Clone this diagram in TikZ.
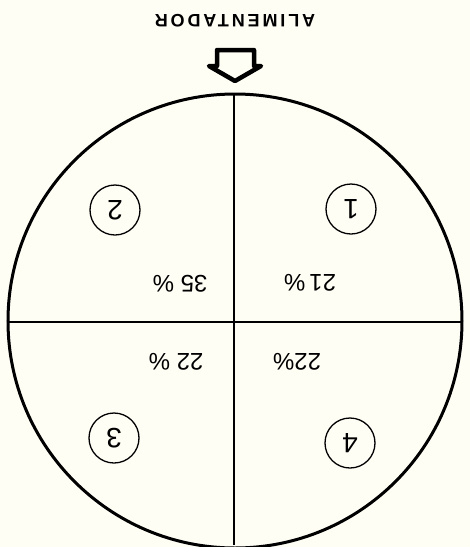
\documentclass[tikz,border=0pt]{standalone}
\usepackage{fontspec}
\setmainfont{Liberation Sans}
\newfontfamily\alimfont[LetterSpace=16]{Liberation Sans}
\begin{document}
\begin{tikzpicture}[x=1pt,y=-1pt,
  lbl/.style={rotate=180,font=\fontsize{24}{24}\selectfont,inner sep=0pt},
  num/.style={circle,draw,line width=1.3pt,minimum size=50pt,inner sep=0pt,rotate=180,font=\fontsize{28}{28}\selectfont}]
\useasboundingbox (0,0) rectangle (470,547);
\fill[white!96!yellow] (0,0) rectangle (470,547);
\coordinate (c) at (235,321);
\draw[line width=3pt] (c) circle (227);
\coordinate (top) at (234,95);
\coordinate (bot) at (234,545);
\coordinate (lft) at (8,322);
\coordinate (rgt) at (462,322);
\draw[line width=1.8pt] (top) -- (bot);
\draw[line width=1.8pt] (lft) -- (rgt);
% feeder arrow
\draw[line width=4.5pt,line join=round] (217,50) -- (254,50) -- (254,66) -- (261,66) -- (235,81) -- (209,66) -- (217,66) -- cycle;
\node[rotate=180,inner sep=0pt,font=\alimfont\bfseries\fontsize{18}{18}\selectfont] (alim) at (235,21) {ALIMENTADOR};
\node[num] (n1) at (351,209) {1};
\node[num] (n2) at (115,210) {2};
\node[num] (n3) at (114,438) {3};
\node[num] (n4) at (350,443) {4};
\node[lbl] (p1) at (310,283) {21\,\%};
\node[lbl] (p2) at (180,284) {35 \%};
\node[lbl] (p3) at (176,362) {22 \%};
\node[lbl] (p4) at (297,362) {22\%};
\end{tikzpicture}
\end{document}
